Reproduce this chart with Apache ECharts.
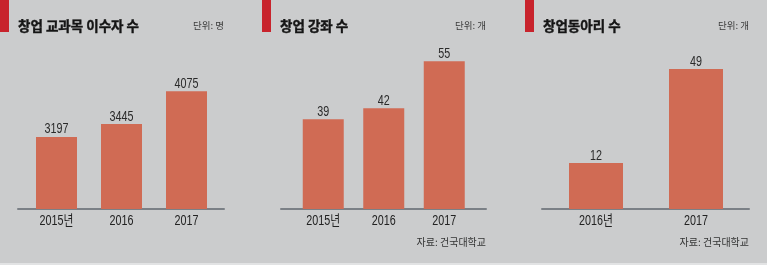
<!DOCTYPE html>
<html><head><meta charset="utf-8">
<script src="https://cdn.jsdelivr.net/npm/echarts@6/dist/echarts.min.js"></script>
<style>html,body{margin:0;padding:0;background:#cbcccd;}#c{width:767px;height:265px;}</style>
</head><body><div id="c"></div>
<script>
const titles = ['창업 교과목 이수자 수', '창업 강좌 수', '창업동아리 수'];
const units = ['단위: 명', '단위: 개', '단위: 개'];
const source = '자료: 건국대학교';
const cats1 = ['2015년', '2016', '2017'];
const vals1 = [3197, 3445, 4075];
const cats2 = ['2015년', '2016', '2017'];
const vals2 = [39, 42, 55];
const cats3 = ['2016년', '2017'];
const vals3 = [12, 49];

const BAR = '#d06b54';
const NUMFONT = '"Liberation Sans", "Noto Sans CJK KR", sans-serif';
const KRFONT = '"Noto Sans CJK KR", sans-serif';
const SQUEEZE = 0.77;

const panels = [
  {cats: cats1, vals: vals1, min: 1812, max: 4866, grid: {left: 24, width: 195}, line: {left: 18, width: 206}, bw: 41, mx: 0, tx: 18, ux: 224},
  {cats: cats2, vals: vals2, min: 14.24, max: 58.1, grid: {left: 293, width: 181.5}, line: {left: 281, width: 205}, bw: 41, mx: 262, tx: 280, ux: 486},
  {cats: cats3, vals: vals3, min: -6.1, max: 56.5, grid: {left: 546, width: 200}, line: {left: 542, width: 207}, bw: 54, mx: 525, tx: 543, ux: 749}
];

const grid = [], xAxis = [], yAxis = [], series = [], graphic = [];
panels.forEach((p, i) => {
  grid.push({left: p.grid.left, width: p.grid.width, top: 50, bottom: 56});
  grid.push({left: p.line.left, width: p.line.width, top: 50, bottom: 56});
  const g = i * 2;
  xAxis.push({type: 'category', gridIndex: g, data: p.cats,
    axisLine: {show: false}, axisTick: {show: false}, axisLabel: {show: false}});
  xAxis.push({type: 'category', gridIndex: g + 1, data: [''],
    axisLine: {show: true, lineStyle: {color: '#7b8086', width: 2}},
    axisTick: {show: false}, axisLabel: {show: false}});
  yAxis.push({type: 'value', gridIndex: g, min: p.min, max: p.max, show: false});
  yAxis.push({type: 'value', gridIndex: g + 1, min: 0, max: 1, show: false});
  series.push({type: 'custom', xAxisIndex: g, yAxisIndex: g, z: 3,
    data: p.cats.map((c, k) => [c, p.vals[k]]),
    encode: {x: 0, y: 1},
    renderItem: function (params, api) {
      const v = api.value(1);
      const top = api.coord([api.value(0), v]);
      const bottom = params.coordSys.y + params.coordSys.height;
      const bw = p.bw;
      return {type: 'group', children: [
        {type: 'rect', shape: {x: top[0] - bw / 2, y: top[1], width: bw, height: bottom - top[1]}, style: {fill: BAR}},
        {type: 'text', x: top[0], y: top[1] - 7.3, scaleX: SQUEEZE,
          style: {text: String(v), align: 'center', verticalAlign: 'middle', font: '14px ' + NUMFONT, fill: '#2a2a2a'}},
        {type: 'text', x: top[0], y: bottom + 11.7, scaleX: SQUEEZE,
          style: {text: p.cats[params.dataIndex], align: 'center', verticalAlign: 'middle', font: '14px ' + NUMFONT, fill: '#222'}}
      ]};
    }});
  graphic.push({type: 'rect', shape: {x: p.mx, y: 0, width: 9, height: 32}, style: {fill: '#c8232c'}});
  graphic.push({type: 'text', x: p.tx, y: 26, style: {text: titles[i], font: 'bold 13.5px ' + KRFONT, fill: '#151515', stroke: '#151515', lineWidth: 0.4, verticalAlign: 'middle'}});
  graphic.push({type: 'text', x: p.ux, y: 25.5, style: {text: units[i], font: '9.5px ' + KRFONT, fill: '#3a3a3a', align: 'right', verticalAlign: 'middle'}});
  if (i > 0) {
    graphic.push({type: 'text', x: p.ux, y: 242, style: {text: source, font: '10px ' + KRFONT, fill: '#333', align: 'right', verticalAlign: 'middle'}});
  }
});
graphic.push({type: 'rect', shape: {x: 0, y: 263, width: 767, height: 2}, style: {fill: '#e2e3e4'}});

const chart = echarts.init(document.getElementById('c'), null, {renderer: 'canvas'});
chart.setOption({
  backgroundColor: '#cbcccd',
  animation: false,
  grid, xAxis, yAxis, series, graphic
});
</script></body></html>
